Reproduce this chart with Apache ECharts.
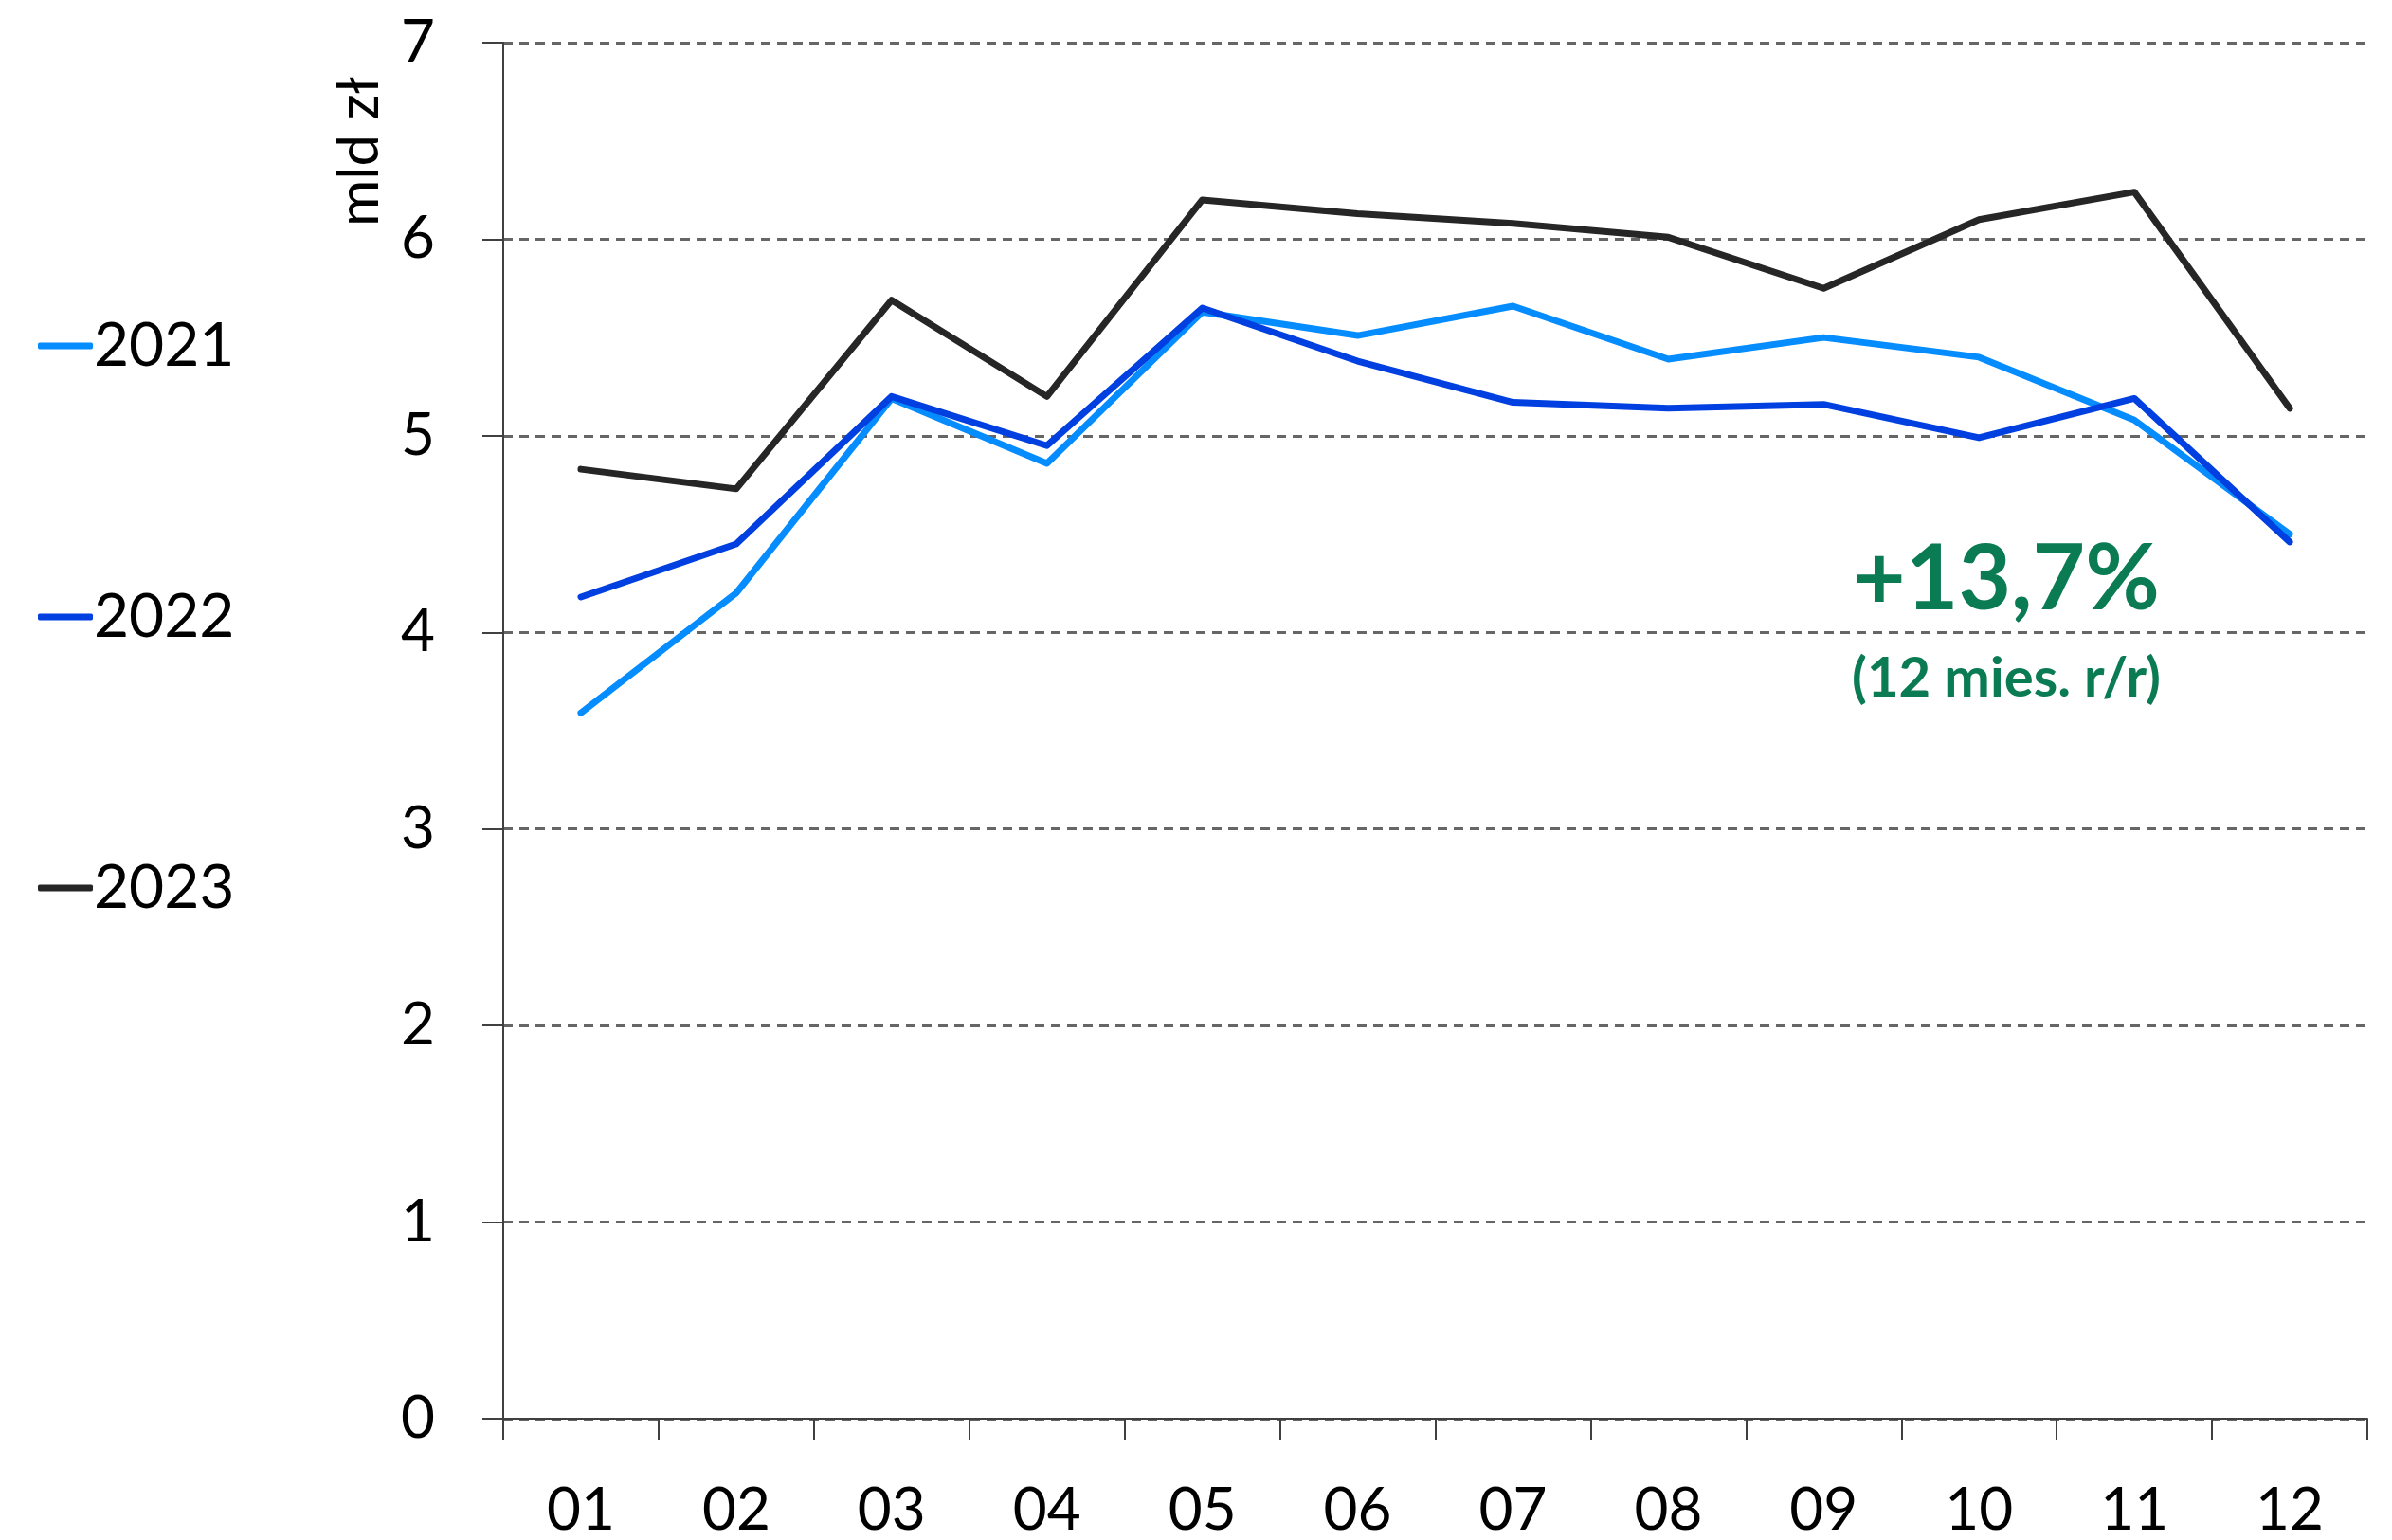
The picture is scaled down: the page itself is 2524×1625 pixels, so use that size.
<!DOCTYPE html>
<html>
<head>
<meta charset="utf-8">
<script src="https://cdn.jsdelivr.net/npm/echarts@6/dist/echarts.min.js"></script>
<style>
  html, body { margin: 0; padding: 0; background: #fff; }
  #chart { width: 2524px; height: 1625px; }
</style>
</head>
<body>
<div id="chart"></div>
<script>
// months on the x axis
const months = ['01', '02', '03', '04', '05', '06', '07', '08', '09', '10', '11', '12'];

// values in mld zł
const y2021 = [3.59, 4.20, 5.19, 4.86, 5.63, 5.51, 5.66, 5.39, 5.50, 5.40, 5.08, 4.50];
const y2022 = [4.18, 4.45, 5.20, 4.95, 5.65, 5.38, 5.17, 5.14, 5.16, 4.99, 5.19, 4.46];
const y2023 = [4.83, 4.73, 5.69, 5.20, 6.20, 6.13, 6.08, 6.01, 5.75, 6.10, 6.24, 5.14];

const seriesNames = ['2021', '2022', '2023'];
const colors = ['#058cff', '#003fe0', '#262626'];

const FONT = 'Lato, "Open Sans", sans-serif';

const myChart = echarts.init(document.getElementById('chart'));

function line(name, data, color) {
    return {
        name,
        type: 'line',
        data,
        symbol: 'none',
        lineStyle: { width: 7, color, cap: 'round', join: 'round' },
        itemStyle: { color },
        z: name === '2023' ? 3 : 2
    };
}

const option = {
    animation: false,
    color: colors,
    textStyle: { fontFamily: FONT },
    grid: { left: 531, right: 26, top: 45, bottom: 123 },
    legend: {
        orient: 'vertical',
        left: 35,
        top: 324,
        itemGap: 214,
        itemWidth: 58,
        itemHeight: 7,
        icon: 'roundRect',
        data: seriesNames,
        textStyle: { fontSize: 64, lineHeight: 72, color: '#000', fontFamily: FONT, padding: [0, 0, 0, -4] }
    },
    xAxis: {
        type: 'category',
        data: months,
        boundaryGap: true,
        axisLine: { lineStyle: { color: '#404040', width: 2 } },
        axisTick: { show: true, length: 22, lineStyle: { color: '#404040', width: 2 } },
        axisLabel: { fontSize: 62, color: '#000', margin: 66, fontFamily: FONT },
        splitLine: { show: false }
    },
    yAxis: {
        type: 'value',
        min: 0,
        max: 7,
        interval: 1,
        axisLine: { show: true, lineStyle: { color: '#404040', width: 2 } },
        axisTick: { show: true, length: 22, lineStyle: { color: '#404040', width: 2 } },
        axisLabel: { fontSize: 62, color: '#000', margin: 72, fontFamily: FONT },
        splitLine: { show: true, lineStyle: { color: '#666', width: 3, type: [10, 7] } }
    },
    graphic: [
        {
            type: 'text',
            x: 380,
            y: 160,
            rotation: Math.PI / 2,
            style: {
                text: 'mld zł',
                fontSize: 60,
                fontFamily: FONT,
                fill: '#000',
                align: 'center',
                verticalAlign: 'middle'
            }
        },
        {
            type: 'text',
            x: 2117,
            y: 612,
            style: {
                text: '+13,7%',
                fontSize: 96,
                fontWeight: 'bold',
                fontFamily: FONT,
                fill: '#0b7b54',
                align: 'center',
                verticalAlign: 'middle'
            }
        },
        {
            type: 'text',
            x: 2117,
            y: 716,
            style: {
                text: '(12 mies. r/r)',
                fontSize: 58,
                fontWeight: 'bold',
                fontFamily: FONT,
                fill: '#0b7b54',
                align: 'center',
                verticalAlign: 'middle'
            }
        }
    ],
    series: [
        line('2021', y2021, colors[0]),
        line('2022', y2022, colors[1]),
        line('2023', y2023, colors[2])
    ]
};

myChart.setOption(option);
</script>
</body>
</html>
